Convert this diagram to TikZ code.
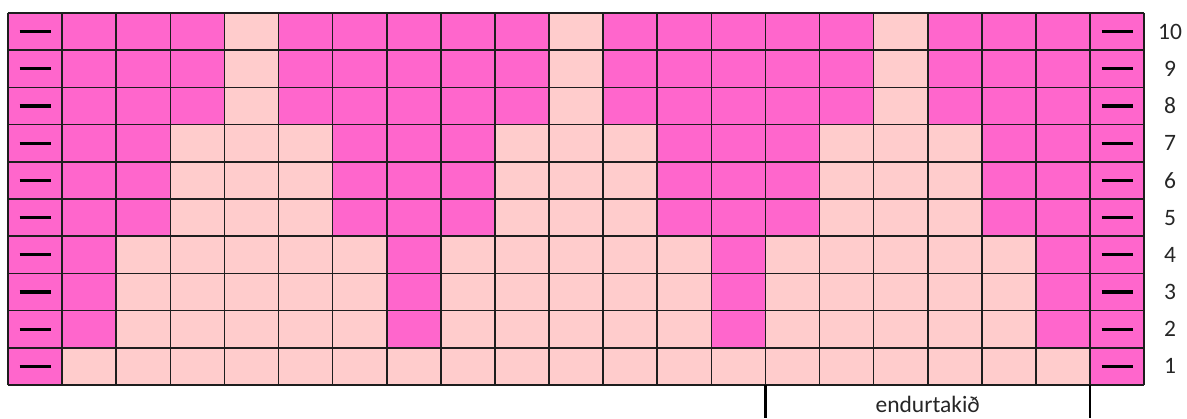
\documentclass[tikz,border=0pt]{standalone}
\usepackage{fontspec}
\setmainfont{Carlito}
\definecolor{chartpink}{RGB}{255,102,204}
\definecolor{chartlight}{RGB}{255,204,204}
\definecolor{chartline}{RGB}{30,30,30}

\begin{document}
\begin{tikzpicture}[x=54.1pt, y=37.2pt,
    gridline/.style={chartline, line width=1.6pt},
    purlmark/.style={black, line width=3.2pt},
    rownum/.style={font=\fontsize{23.5}{27}\selectfont, text=black!85},
    bracket/.style={black, line width=2.6pt}]
  \useasboundingbox (-8pt,-33pt) rectangle (1179pt,385pt);

  % all cells pink first
  \fill[chartpink] (0,0) rectangle (21,10);

  % light cells, the motif repeats every 6 stitches
  \foreach \r in {1,...,10} {
    \pgfmathtruncatemacro{\lim}{3-int((\r+1)/3)}
    \foreach \c in {2,...,20} {
      \pgfmathtruncatemacro{\d}{abs(mod(\c-2,6)-3)}
      \ifnum\d>\lim\relax\else
        \fill[chartlight] (\c-1,\r-1) rectangle (\c,\r);
      \fi
    }
  }

  % grid
  \foreach \c in {0,...,21}
    \draw[gridline] (\c,0) -- (\c,10);
  \foreach \r in {0,...,10}
    \draw[gridline] (0,\r) -- (21,\r);

  % edge stitches and row numbers
  \foreach \r in {1,...,10} {
    \draw[purlmark] (0.5,\r-0.5) +(-15.5pt,0) -- +(15.5pt,0);
    \draw[purlmark] (20.5,\r-0.5) +(-15.5pt,0) -- +(15.5pt,0);
    \node[rownum] (row\r) at (21.48,\r-0.5) {\r};
  }

  % repeat bracket
  \coordinate (repl) at (14,0);
  \coordinate (repr) at (20,0);
  \coordinate (repll) at (14,-33pt);
  \coordinate (reprl) at (20,-33pt);
  \draw[bracket] (repl) -- (repll);
  \draw[bracket] (repr) -- (reprl);
  \node[rownum] (rep) at (17,-19pt) {endurtakið};
\end{tikzpicture}
\end{document}
